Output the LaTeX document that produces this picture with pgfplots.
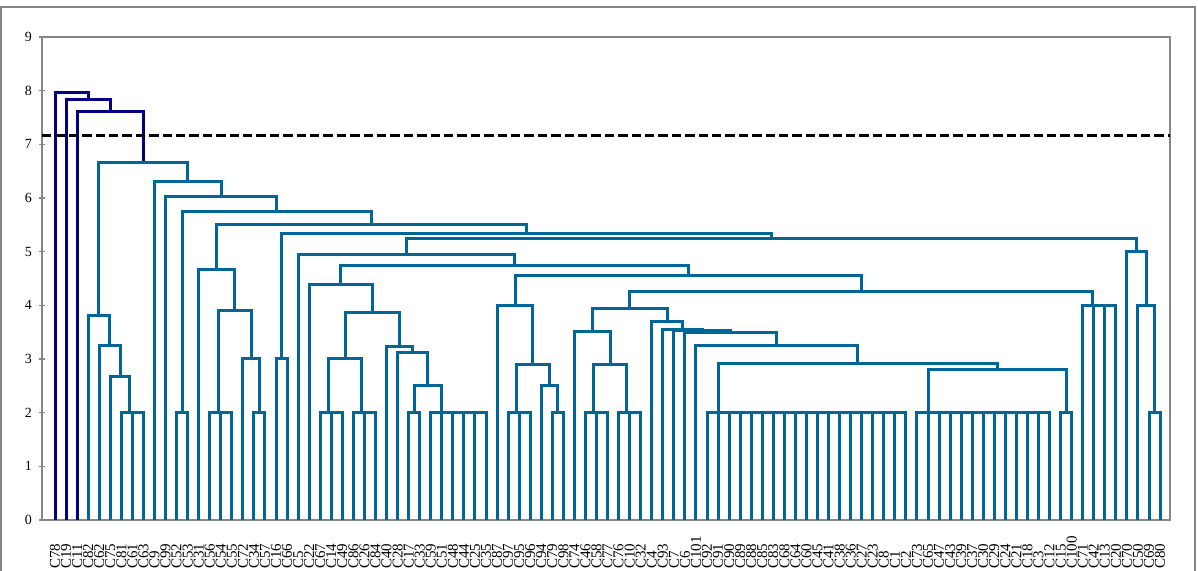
\documentclass[border=0pt]{standalone}
\usepackage{fontspec}
\setmainfont{Liberation Serif}
\usepackage{pgfplots}
\pgfplotsset{compat=1.18}

\definecolor{navyline}{RGB}{0,0,128}
\definecolor{tealline}{RGB}{0,102,153}
\definecolor{axisgray}{RGB}{134,134,134}

\tikzset{
  link/.style={color=tealline, line width=1.5pt, line join=miter},
  toplink/.style={color=navyline, line width=1.5pt, line join=miter},
}

\begin{document}
\begin{tikzpicture}
\useasboundingbox (-21pt,-25.5pt) rectangle (578pt,260pt);
% outer chart frame
\draw[axisgray, line width=0.6pt] (-20.5pt,-40pt) -- (-20.5pt,256.5pt) -- (576.5pt,256.5pt) -- (576.5pt,-40pt);
\begin{axis}[
    at={(0,0)}, anchor=south west,
    scale only axis,
    width=564pt, height=241.5pt,
    xmin=-1.18, xmax=100.9,
    ymin=0, ymax=9,
    axis line style={axisgray, line width=0.6pt},
    ytick={0,...,9},
    ytick pos=left,
    ytick style={axisgray, line width=0.6pt},
    tick align=center,
    major tick length=3pt,
    yticklabel style={font=\fontsize{7}{8}\selectfont},
    xtick={0,...,100},
    xtick style={draw=none},
    xticklabels={C78,C19,C11,C82,C62,C75,C81,C61,C63,C9,C99,C52,C53,C31,C56,C54,C55,C72,C34,C57,
      C16,C66,C5,C22,C67,C14,C49,C86,C26,C84,C40,C28,C17,C33,C59,C51,C48,C44,C25,C35,
      C87,C97,C95,C96,C94,C79,C98,C74,C46,C58,C77,C76,C10,C32,C4,C93,C7,C6,C101,C92,
      C91,C90,C89,C88,C85,C83,C68,C64,C60,C45,C41,C38,C36,C27,C23,C8,C1,C2,C73,C65,
      C47,C43,C39,C37,C30,C29,C24,C21,C18,C3,C12,C15,C100,C71,C42,C13,C20,C70,C50,C69,C80},
    xticklabel style={rotate=90, anchor=west, inner sep=0pt, font=\fontsize{7.5}{8}\selectfont},
    xticklabel shift=23pt,
    /pgf/number format/assume math mode=true,
]
% top three merges (above the cut)
\addplot[toplink] coordinates {(0,0) (0,7.96) (3,7.96) (3,7.83)};
\addplot[toplink] coordinates {(1,0) (1,7.83) (5,7.83) (5,7.62)};
\addplot[toplink] coordinates {(2,0) (2,7.62) (7.99,7.62) (7.99,6.67)};

% left group
\addplot[link] coordinates {(3.97,3.81) (3.97,6.67) (12.02,6.67) (12.02,6.30)};
\addplot[link] coordinates {(3,0) (3,3.81) (4.94,3.81) (4.94,3.25)};
\addplot[link] coordinates {(4,0) (4,3.25) (5.88,3.25) (5.88,2.68)};
\addplot[link] coordinates {(5,0) (5,2.68) (6.75,2.68) (6.75,2)};
\addplot[link] coordinates {(6,0) (6,2) (8,2) (8,0)};

\addplot[link] coordinates {(9,0) (9,6.30) (15.04,6.30) (15.04,6.02)};
\addplot[link] coordinates {(10,0) (10,6.02) (20.07,6.02) (20.07,5.74)};
\addplot[link] coordinates {(11.5,2) (11.5,5.74) (28.65,5.74) (28.65,5.51)};
\addplot[link] coordinates {(11,0) (11,2) (12,2) (12,0)};
\addplot[link] coordinates {(14.63,4.67) (14.63,5.51) (42.67,5.51) (42.67,5.34)};
\addplot[link] coordinates {(13,0) (13,4.67) (16.25,4.67) (16.25,3.91)};
\addplot[link] coordinates {(14.75,2) (14.75,3.91) (17.75,3.91) (17.75,3)};
\addplot[link] coordinates {(14,0) (14,2) (16,2) (16,0)};
\addplot[link] coordinates {(17,0) (17,3) (18.5,3) (18.5,2)};
\addplot[link] coordinates {(18,0) (18,2) (19,2) (19,0)};

\addplot[link] coordinates {(20.5,3) (20.5,5.34) (64.83,5.34) (64.83,5.24)};
\addplot[link] coordinates {(20,0) (20,3) (21,3) (21,0)};
\addplot[link] coordinates {(31.79,4.94) (31.79,5.24) (97.88,5.24) (97.88,5.01)};
\addplot[link] coordinates {(22,0) (22,4.94) (41.57,4.94) (41.57,4.75)};
\addplot[link] coordinates {(25.86,4.39) (25.86,4.75) (57.28,4.75) (57.28,4.56)};
\addplot[link] coordinates {(23,0) (23,4.39) (28.72,4.39) (28.72,3.86)};
\addplot[link] coordinates {(26.25,3) (26.25,3.86) (31.18,3.86) (31.18,3.23)};
\addplot[link] coordinates {(24.75,2) (24.75,3) (27.75,3) (27.75,2)};
\addplot[link] coordinates {(24,0) (24,2) (26,2) (26,0)};
\addplot[link] coordinates {(27,0) (27,2) (29,2) (29,0)};
\addplot[link] coordinates {(30,0) (30,3.23) (32.37,3.23) (32.37,3.12)};
\addplot[link] coordinates {(31,0) (31,3.12) (33.73,3.12) (33.73,2.51)};
\addplot[link] coordinates {(32.5,2) (32.5,2.51) (34.97,2.51) (34.97,2)};
\addplot[link] coordinates {(32,0) (32,2) (33,2) (33,0)};
\addplot[link] coordinates {(34,0) (34,2) (39,2) (39,0)};

% middle group
\addplot[link] coordinates {(41.63,4) (41.63,4.56) (72.94,4.56) (72.94,4.25)};
\addplot[link] coordinates {(40,0) (40,4) (43.25,4) (43.25,2.9)};
\addplot[link] coordinates {(41.75,2) (41.75,2.9) (44.75,2.9) (44.75,2.5)};
\addplot[link] coordinates {(41,0) (41,2) (43,2) (43,0)};
\addplot[link] coordinates {(44,0) (44,2.5) (45.5,2.5) (45.5,2)};
\addplot[link] coordinates {(45,0) (45,2) (46,2) (46,0)};
\addplot[link] coordinates {(52.01,3.94) (52.01,4.25) (93.88,4.25) (93.88,4)};
\addplot[link] coordinates {(48.63,3.51) (48.63,3.94) (55.4,3.94) (55.4,3.69)};
\addplot[link] coordinates {(47,0) (47,3.51) (50.25,3.51) (50.25,2.9)};
\addplot[link] coordinates {(48.75,2) (48.75,2.9) (51.75,2.9) (51.75,2)};
\addplot[link] coordinates {(48,0) (48,2) (50,2) (50,0)};
\addplot[link] coordinates {(51,0) (51,2) (53,2) (53,0)};
\addplot[link] coordinates {(54,0) (54,3.69) (56.79,3.69) (56.79,3.55)};
\addplot[link] coordinates {(55,0) (55,3.55) (58.58,3.55) (58.58,3.53)};
\addplot[link] coordinates {(56,0) (56,3.53) (61.16,3.53) (61.16,3.50)};
\addplot[link] coordinates {(57,0) (57,3.50) (65.31,3.50) (65.31,3.25)};
\addplot[link] coordinates {(58,0) (58,3.25) (72.63,3.25) (72.63,2.92)};
\addplot[link] coordinates {(60,2) (60,2.92) (85.25,2.92) (85.25,2.81)};
\addplot[link] coordinates {(59,0) (59,2) (77,2) (77,0)};
\addplot[link] coordinates {(79,2) (79,2.81) (91.5,2.81) (91.5,2)};
\addplot[link] coordinates {(78,0) (78,2) (90,2) (90,0)};
\addplot[link] coordinates {(91,0) (91,2) (92,2) (92,0)};
\addplot[link] coordinates {(93,0) (93,4) (96,4) (96,0)};

% right group
\addplot[link] coordinates {(97,0) (97,5.01) (98.75,5.01) (98.75,4)};
\addplot[link] coordinates {(98,0) (98,4) (99.5,4) (99.5,2)};
\addplot[link] coordinates {(99,0) (99,2) (100,2) (100,0)};

% leaves inside tied groups
\addplot[link, ycomb] coordinates {
  (7,2) (15,2) (25,2) (28,2) (35,2) (36,2) (37,2) (38,2) (42,2) (49,2) (52,2)
  (60,2) (61,2) (62,2) (63,2) (64,2) (65,2) (66,2) (67,2) (68,2) (69,2) (70,2)
  (71,2) (72,2) (73,2) (74,2) (75,2) (76,2)
  (79,2) (80,2) (81,2) (82,2) (83,2) (84,2) (85,2) (86,2) (87,2) (88,2) (89,2)
  (94,4) (95,4)};

% cut line
\addplot[black, line width=1.3pt, dash pattern=on 4.7pt off 2pt] coordinates {(-1.18,7.17) (100.9,7.17)};
\end{axis}
\end{tikzpicture}
\end{document}
